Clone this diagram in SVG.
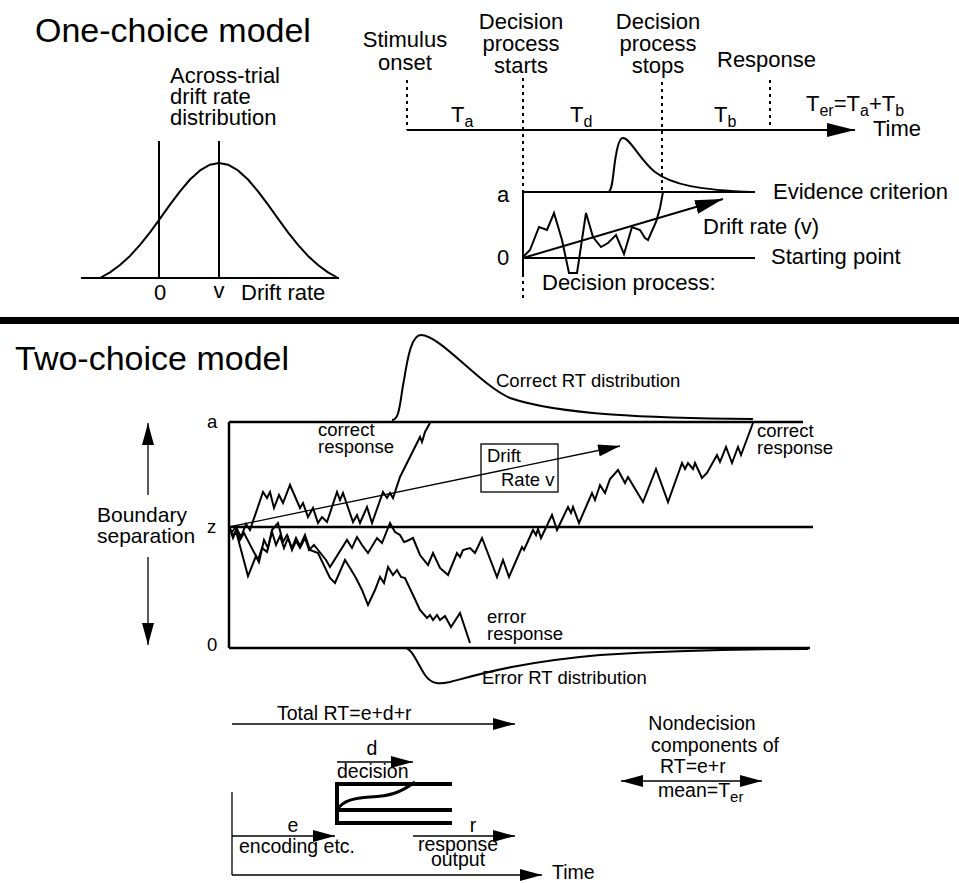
<svg xmlns="http://www.w3.org/2000/svg" width="959" height="883" viewBox="0 0 959 883">
<style>
text{font-family:"Liberation Sans",Arial,Helvetica,sans-serif;fill:#000}
.title{font-size:34px}
.lbl{font-size:22px}
.sm{font-size:18.5px}
.md{font-size:21px}
.bt{font-size:19.5px}
.ln{stroke:#000;fill:none;stroke-width:2}
.bd{stroke:#000;fill:none;stroke-width:2.5}
.thin{stroke:#000;fill:none;stroke-width:1.3}
.dot{stroke:#000;fill:none;stroke-width:2;stroke-dasharray:3 4}
.walk{stroke:#000;fill:none;stroke-width:2;stroke-linejoin:miter}
.thick{stroke:#000;fill:none;stroke-width:4}
</style>
<defs>
<marker id="ah" markerUnits="userSpaceOnUse" markerWidth="22" markerHeight="12" refX="22" refY="6" orient="auto-start-reverse" viewBox="0 0 22 12"><path d="M0,0L22,6L0,12z" fill="#000"/></marker>
<marker id="ahL" markerUnits="userSpaceOnUse" markerWidth="28" markerHeight="14" refX="28" refY="7" orient="auto" viewBox="0 0 28 14"><path d="M0,0L28,7L0,14z" fill="#000"/></marker>
</defs>
<rect width="959" height="883" fill="#fff"/>

<!-- One-choice model -->
<g id="one-choice-title"><text class="title" x="35" y="42">One-choice model</text></g>
<g id="drift-distribution">
<text class="lbl" x="170" y="83">Across-trial</text>
<text class="lbl" x="170" y="104">drift rate</text>
<text class="lbl" x="170" y="125">distribution</text>
<line class="ln" x1="81" y1="278" x2="339" y2="278"/>
<line class="ln" x1="159" y1="141" x2="159" y2="278"/>
<line class="ln" x1="219" y1="141" x2="219" y2="278"/>
<polyline class="ln" stroke-linejoin="round" points="100,278 110,272.4 120,265 130,255.9 140,244.9 150,232.3 160,218.7 170,204.7 180,191.3 190,179.5 200,170.4 210,164.7 219,163 228,164.7 238,170.4 248,179.5 258,191.3 268,204.7 278,218.7 288,232.3 298,244.9 308,255.9 318,265 328,272.4 338,278"/>
<text class="lbl" x="160" y="300" text-anchor="middle">0</text>
<text class="lbl" x="219" y="298" text-anchor="middle">v</text>
<text class="lbl" x="241" y="300">Drift rate</text>
</g>

<g id="timeline">
<text class="lbl" x="405" y="47" text-anchor="middle">Stimulus</text>
<text class="lbl" x="405" y="70" text-anchor="middle">onset</text>
<text class="lbl" x="521" y="29" text-anchor="middle">Decision</text>
<text class="lbl" x="521" y="51" text-anchor="middle">process</text>
<text class="lbl" x="521" y="73" text-anchor="middle">starts</text>
<text class="lbl" x="658" y="29" text-anchor="middle">Decision</text>
<text class="lbl" x="658" y="51" text-anchor="middle">process</text>
<text class="lbl" x="658" y="73" text-anchor="middle">stops</text>
<text class="lbl" x="717" y="67">Response</text>
<text class="lbl" x="451" y="122">T<tspan font-size="16" dy="5">a</tspan></text>
<text class="lbl" x="570" y="122">T<tspan font-size="16" dy="5">d</tspan></text>
<text class="lbl" x="714" y="122">T<tspan font-size="16" dy="5">b</tspan></text>
<text class="lbl" x="806" y="111">T<tspan font-size="16" dy="5">er</tspan><tspan dy="-5">=T</tspan><tspan font-size="16" dy="5">a</tspan><tspan dy="-5">+T</tspan><tspan font-size="16" dy="5">b</tspan></text>
<text class="lbl" x="873" y="136">Time</text>
</g>

<g id="decision-process">
<text class="lbl" x="497" y="202">a</text>
<text class="lbl" x="497" y="265">0</text>
<line class="ln" x1="523" y1="192" x2="755" y2="192"/>
<line class="ln" x1="523" y1="258" x2="755" y2="258"/>
<line class="ln" x1="523" y1="192" x2="523" y2="276"/>
<path class="ln" d="M608,192 C613,192 613,170 616,155 C618,143 620,138 623,138 C630,138 640,160 655,172 C672,185 700,190 753,192"/>
<polyline class="ln" stroke-width="1.6" points="523,257 530,250 539,227 547,230 554,213 562,240 569,273 577,273 586,213 593,237 601,247 608,243 616,235 624,254 632,227 640,230 645,238 648,240 656,222 660,208 663,192"/>
<text class="lbl" x="773" y="199">Evidence criterion</text>
<text class="lbl" x="703" y="234">Drift rate (v)</text>
<text class="lbl" x="771" y="264">Starting point</text>
<text class="lbl" x="542" y="290">Decision process:</text>
</g>

<g id="one-choice-connectors">
<line class="ln" x1="407" y1="130" x2="855" y2="130" marker-end="url(#ahL)"/>
<line class="dot" x1="407" y1="80" x2="407" y2="130"/>
<line class="dot" x1="523" y1="78" x2="523" y2="302"/>
<line class="dot" x1="662" y1="82" x2="662" y2="190"/>
<line class="dot" x1="770" y1="80" x2="770" y2="130"/>
<line class="ln" x1="523" y1="258" x2="723" y2="199" marker-end="url(#ahL)"/>
</g>

<!-- separator -->
<rect x="0" y="317" width="959" height="7" fill="#000"/>

<!-- Two-choice model -->
<g id="two-choice-title"><text class="title" x="15" y="370">Two-choice model</text></g>

<g id="boundary-separation">
<text class="md" x="97" y="522">Boundary</text>
<text class="md" x="97" y="543">separation</text>
<line class="thin" x1="148" y1="495" x2="148" y2="423" marker-end="url(#ah)"/>
<line class="thin" x1="148" y1="557" x2="148" y2="645" marker-end="url(#ah)"/>
</g>

<g id="boundaries">
<text class="sm" x="207" y="428">a</text>
<text class="sm" x="207" y="533">z</text>
<text class="sm" x="207" y="651">0</text>
<line class="bd" x1="229" y1="422" x2="803" y2="422"/>
<line class="bd" x1="228" y1="527" x2="813" y2="527"/>
<line class="bd" x1="229" y1="648" x2="810" y2="648"/>
<line class="bd" x1="229" y1="422" x2="229" y2="648"/>
</g>

<g id="correct-rt">
<path class="ln" d="M392,420 C400,420 400,400 404,380 C408,355 412,335 421,335 C440,335 480,385 510,398 C560,415 650,418 753,419"/>
<text class="sm" x="496" y="387">Correct RT distribution</text>
</g>

<g id="error-rt">
<path class="ln" d="M405,648 C412,648 418,665 425,675 C432,685 440,684 450,682 C480,674 520,662 600,655 C680,650 750,649 808,649"/>
<text class="sm" x="482" y="684">Error RT distribution</text>
</g>

<g id="walks">
<polyline class="walk" points="229,527 233,536 237,529 241,537 246,524 250,530 263,492 267,498 270,492 274,508 279,495 283,503 290,485 300,508 303,503 308,517 313,508 318,523 322,517 327,522 337,492 340,500 343,493 353,522 357,515 360,523 367,507 372,523 383,492 387,498 390,493 393,498 400,477 420,437 422,442 425,432 430,423"/>
<polyline class="walk" points="229,527 233,538 236,531 248,576 256,556 259,562 264,540 268,548 272,532 276,545 280,536 284,548 288,538 292,550 296,541 300,548 305,538 309,550 314,545 326,560 330,567 347,540 352,548 357,537 362,545 368,553 377,538 382,543 390,523 395,532 400,535 404,542 407,541 413,538 420,555 428,565 433,553 440,568 448,575 457,553 460,557 463,550 470,548 475,553 482,538 497,577 503,560 509,577 522,547 524,550 533,530 536,535 538,529 541,538 552,515 557,530 568,507 571,513 573,507 579,523 592,493 595,500 600,485 605,493 610,479 618,470 625,483 628,477 643,502 656,469 668,502 682,463 685,469 688,463 693,469 695,463 702,478 707,473 717,455 720,462 726,447 732,463 738,447 741,455 753,423"/>
<polyline class="walk" points="229,527 232,532 236,527 240,540 244,533 258,560 262,548 267,552 272,530 278,523 283,542 287,535 292,548 296,538 300,546 305,535 310,550 318,553 330,578 335,583 345,560 350,568 356,578 362,590 368,605 375,590 380,577 384,583 388,567 393,575 397,570 401,577 405,578 413,595 420,610 427,618 430,615 433,620 437,615 440,620 445,616 451,627 460,613 470,643"/>
</g>

<g id="labels-two-choice">
<text class="sm" x="318" y="436">correct</text>
<text class="sm" x="318" y="453">response</text>
<text class="sm" x="757" y="437">correct</text>
<text class="sm" x="757" y="454">response</text>
<text class="sm" x="487" y="623">error</text>
<text class="sm" x="487" y="640">response</text>
</g>

<g id="drift-rate-box">
<rect x="481" y="444" width="77" height="48" fill="none" stroke="#000" stroke-width="1.3"/>
<text class="sm" x="487" y="462">Drift</text>
<text class="sm" x="501" y="486">Rate v</text>
</g>

<g id="two-choice-connectors">
<line class="thin" x1="229" y1="527" x2="620" y2="446" marker-end="url(#ah)"/>
</g>

<!-- Bottom components -->
<g id="total-rt">
<text class="bt" x="277" y="720">Total RT=e+d+r</text>
<line class="thin" x1="232" y1="724" x2="515" y2="724" marker-end="url(#ah)"/>
</g>

<g id="decision-component">
<text class="bt" x="372" y="755" text-anchor="middle">d</text>
<line class="thin" x1="337" y1="762" x2="413" y2="762" marker-end="url(#ah)"/>
<text class="bt" x="337" y="778">decision</text>
<line class="thick" x1="337" y1="782" x2="337" y2="825"/>
<line class="thick" x1="337" y1="784" x2="452" y2="784"/>
<line class="thick" x1="337" y1="810" x2="452" y2="810"/>
<line class="thick" x1="337" y1="823" x2="452" y2="823"/>
<path stroke="#000" fill="none" stroke-width="3" d="M337,810 C343,800 355,798 370,797 C390,796 400,793 415,782"/>
</g>

<g id="encoding-component">
<text class="bt" x="293" y="832" text-anchor="middle">e</text>
<line class="thin" x1="232" y1="836" x2="335" y2="836" marker-end="url(#ah)"/>
<text class="bt" x="239" y="853">encoding etc.</text>
</g>

<g id="response-component">
<text class="bt" x="473" y="832" text-anchor="middle">r</text>
<line class="thin" x1="413" y1="836" x2="515" y2="836" marker-end="url(#ah)"/>
<text class="bt" x="458" y="851" text-anchor="middle">response</text>
<text class="bt" x="458" y="866" text-anchor="middle">output</text>
</g>

<g id="time-axis">
<line class="thin" x1="232" y1="792" x2="232" y2="875"/>
<line class="thin" x1="232" y1="875" x2="542" y2="875" marker-end="url(#ah)"/>
<text class="bt" x="552" y="879">Time</text>
</g>

<g id="nondecision">
<text class="bt" x="702" y="730" text-anchor="middle">Nondecision</text>
<text class="bt" x="715" y="752" text-anchor="middle">components of</text>
<text class="bt" x="660" y="773">RT=e+r</text>
<line class="thin" x1="621" y1="781" x2="762" y2="781" marker-start="url(#ah)" marker-end="url(#ah)"/>
<text class="bt" x="658" y="797">mean=T<tspan font-size="15" dy="5">er</tspan></text>
</g>
</svg>
